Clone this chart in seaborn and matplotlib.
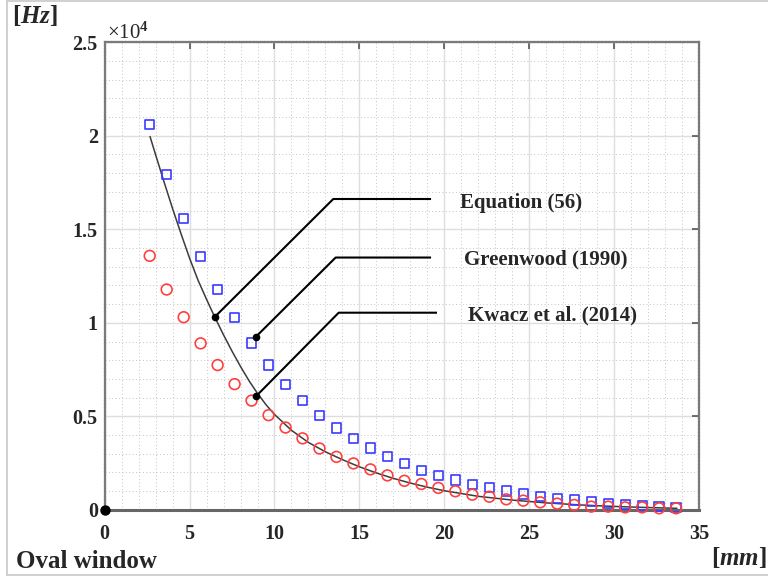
import matplotlib
matplotlib.use("Agg")
import matplotlib.pyplot as plt
import seaborn as sns
from matplotlib.ticker import MultipleLocator, FuncFormatter
from matplotlib.lines import Line2D

# ---- data ----
position_mm = [2.65, 3.65, 4.65, 5.65, 6.65, 7.65, 8.65, 9.65, 10.65, 11.65,
               12.65, 13.65, 14.65, 15.65, 16.65, 17.65, 18.65, 19.65, 20.65, 21.65,
               22.65, 23.65, 24.65, 25.65, 26.65, 27.65, 28.65, 29.65, 30.65, 31.65,
               32.65, 33.65]
greenwood_hz = [20600, 17920, 15590, 13560, 11780, 10270, 8920, 7740, 6710, 5840,
                5060, 4380, 3820, 3310, 2870, 2480, 2120, 1830, 1590, 1360,
                1180, 1000, 840, 700, 590, 520, 430, 350, 290, 220,
                170, 110]
kwacz_hz = [13580, 11780, 10300, 8900, 7740, 6720, 5840, 5060, 4400, 3820,
            3280, 2830, 2480, 2160, 1840, 1550, 1380, 1170, 990, 810,
            700, 560, 490, 400, 330, 260, 170, 170, 130, 130,
            80, 80]
eq_x_mm = [2.67, 3.0, 3.5, 4.0, 4.5, 5.0, 5.5, 6.0, 6.47, 7.0,
           7.5, 8.0, 8.5, 9.0, 9.5, 10.0, 11.0, 12.0, 13.0, 14.0,
           15.0, 16.0, 17.0, 18.0, 19.0, 20.0, 22.0, 24.0, 26.0, 28.0,
           30.0, 32.0, 33.7]
eq_hz = [19960, 18980, 17520, 16100, 14750, 13450, 12270, 11250, 10330, 9350,
         8480, 7660, 6900, 6220, 5620, 5100, 4250, 3600, 3100, 2680,
         2300, 1970, 1680, 1430, 1210, 1020, 720, 520, 370, 260,
         180, 120, 80]

x_ticks = [0, 5, 10, 15, 20, 25, 30, 35]
y_ticks = [0, 5000, 10000, 15000, 20000, 25000]
series_labels = ["Equation (56)", "Greenwood (1990)", "Kwacz et al. (2014)"]

# ---- style ----
sns.set_theme(style="white")
plt.rcParams.update({
    "font.family": ["Liberation Serif", "DejaVu Serif"],
    "font.weight": "bold",
    "mathtext.fontset": "custom",
    "mathtext.rm": "Liberation Serif:bold",
    "mathtext.bf": "Liberation Serif:bold",
    "mathtext.it": "Liberation Serif:italic:bold",
})

fig = plt.figure(figsize=(7.68, 5.81), dpi=100)
W, H = 768.0, 581.0
ax = fig.add_axes([104.7 / W, (H - 509.8) / H, (699.0 - 104.7) / W, (509.8 - 42.3) / H])

# grid
ax.xaxis.set_minor_locator(MultipleLocator(1))
ax.yaxis.set_minor_locator(MultipleLocator(1000))
ax.grid(which="major", color="#dedede", lw=1.0, ls="-", zorder=0)
ax.grid(which="minor", color="#c4c4c4", lw=0.7, ls=(0, (1, 2.5)), zorder=0)
ax.set_axisbelow(True)

# series
sns.lineplot(x=eq_x_mm, y=eq_hz, color="#3c3c3c", lw=1.1, ax=ax, zorder=3)
sns.scatterplot(x=position_mm, y=greenwood_hz, marker="s", s=44, color="#3a3aff",
                facecolor="none", edgecolor="#3a3aff", linewidth=1.2, ax=ax,
                zorder=4, clip_on=False)
sns.scatterplot(x=position_mm, y=kwacz_hz, marker="o", s=60, color="#ff4040",
                facecolor="none", edgecolor="#ff4040", linewidth=1.2, ax=ax,
                zorder=4, clip_on=False)

# origin dot
ax.plot([0], [0], "o", color="black", ms=6.5, clip_on=False, zorder=10)

# annotations (leader lines)
leaders = [
    ((6.50, 10330), (13.46, 16620), 19.22, (20.92, 16390)),
    ((8.89, 9240), (13.60, 13490), 19.22, (21.16, 13380)),
    ((8.91, 6070), (13.78, 10540), 19.57, (21.39, 10390)),
]
for (dot, elbow, xend, txt), lab in zip(leaders, series_labels):
    ax.plot([dot[0], elbow[0], xend], [dot[1], elbow[1], elbow[1]],
            color="black", lw=1.5, zorder=6, solid_capstyle="butt")
    ax.plot([dot[0]], [dot[1]], "o", color="black", ms=4.5, zorder=7)
    ax.text(txt[0], txt[1], lab, fontsize=15, fontweight="bold",
            ha="left", va="center", zorder=7)

# axes
ax.set_xlim(0, 35)
ax.set_ylim(0, 25000)
ax.set_xticks(x_ticks)
ax.set_yticks(y_ticks)
ax.yaxis.set_major_formatter(FuncFormatter(lambda v, p: f"{v / 1e4:g}"))
ax.tick_params(which="major", direction="in", length=5, width=1.2, color="#555555",
               top=True, right=True, labelsize=14.5)
ax.tick_params(axis="x", which="major", pad=10)
ax.tick_params(axis="y", which="major", pad=5)
ax.tick_params(which="minor", length=0)
for lab in ax.get_xticklabels() + ax.get_yticklabels():
    lab.set_fontweight("bold")

for side in ["top", "left", "right"]:
    ax.spines[side].set_color("#7a7a7a")
    ax.spines[side].set_linewidth(1.6)
    ax.spines[side].set_linestyle((0, (1, 0.6)))
ax.spines["bottom"].set_color("#666666")
ax.spines["bottom"].set_linewidth(2.2)
ax.set_xlabel("")
ax.set_ylabel("")

# figure-level texts
fig.text(12 / W, 1 - 16 / H, r"[$Hz$]", fontsize=18, ha="left", va="center")
fig.text(107 / W, 1 - 33 / H, r"×10$^{4}$", fontsize=15, ha="left", va="center",
         fontweight="normal")
fig.text(16 / W, 1 - 561 / H, "Oval window", fontsize=18, ha="left", va="center")
fig.text(767 / W, 1 - 557 / H, r"[$mm$]", fontsize=18, ha="right", va="center")

# light frame around figure
fig.add_artist(Line2D([7 / W, 1.0], [1 - 1 / H, 1 - 1 / H], color="#c8c8c8", lw=1.2,
                      transform=fig.transFigure))
fig.add_artist(Line2D([7 / W, 1.0], [1 - 575 / H, 1 - 575 / H], color="#c8c8c8", lw=1.2,
                      transform=fig.transFigure))
fig.add_artist(Line2D([7 / W, 7 / W], [1 - 1 / H, 1 - 575 / H], color="#c8c8c8", lw=1.2,
                      transform=fig.transFigure))

fig.savefig("out.png", dpi=100)
